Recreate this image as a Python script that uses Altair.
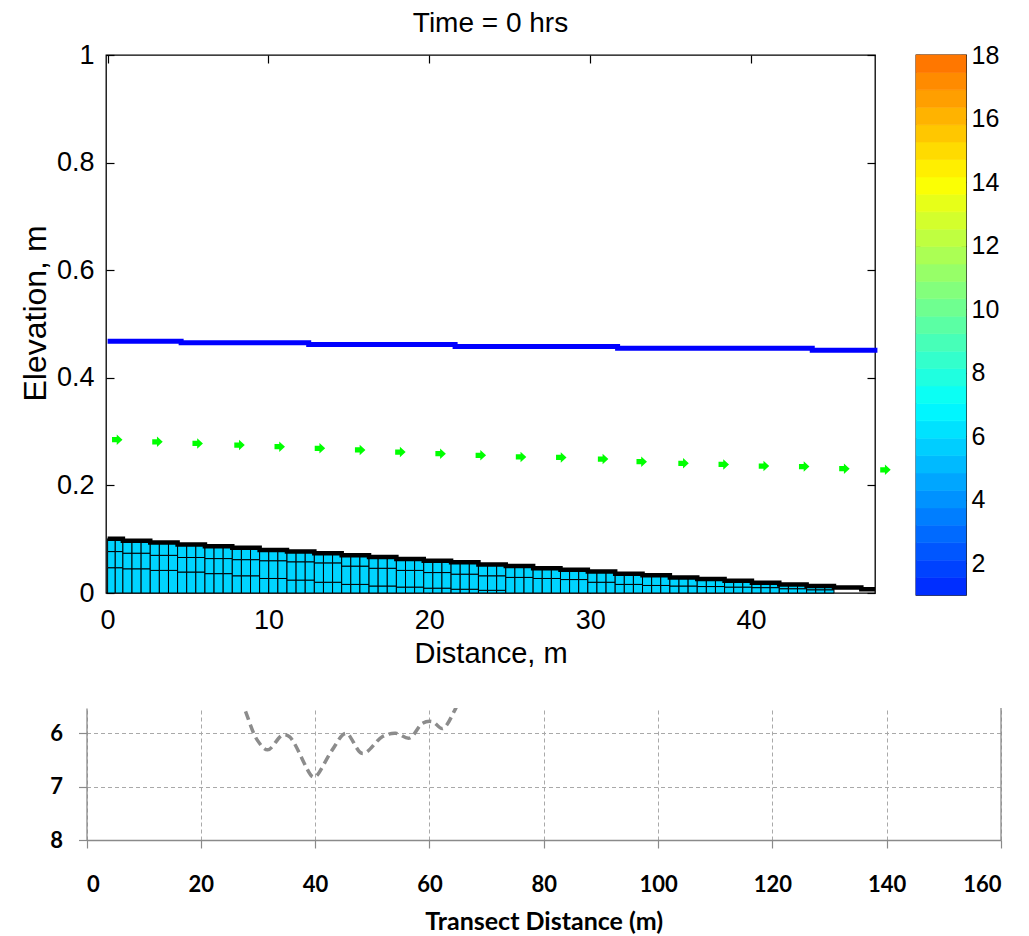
import altair as alt
import numpy as np
import pandas as pd

# ---------------- data ----------------
# water surface (blue, stepped)
blue_x = [0.0, 4.57, 12.5, 21.6, 31.7, 43.8, 47.85]
blue_y = [0.468, 0.465, 0.462, 0.458, 0.455, 0.451, 0.451]

# green markers
green_x = [0.6, 3.1, 5.6, 8.2, 10.7, 13.2, 15.7, 18.2, 20.7, 23.2,
           25.7, 28.2, 30.8, 33.2, 35.8, 38.3, 40.8, 43.3, 45.8, 48.35]
green_y = [0.285, 0.281, 0.278, 0.275, 0.272, 0.269, 0.266, 0.262, 0.259, 0.256,
           0.253, 0.252, 0.249, 0.244, 0.241, 0.239, 0.236, 0.235, 0.231, 0.229]

# sediment bed: step edges, bed-top elevation per step, internal layer surfaces
bed_edges = [0.0, 0.95, 2.65, 4.35, 6.05, 7.75, 9.45, 11.15, 12.85, 14.55, 16.25,
             17.95, 19.65, 21.35, 23.05, 24.75, 26.45, 28.15, 29.85, 31.55, 33.25,
             34.95, 36.65, 38.35, 40.05, 41.75, 43.45, 45.15, 46.85, 47.7]
bed_top = [0.101, 0.097, 0.094, 0.090, 0.087, 0.084, 0.080, 0.077, 0.074, 0.070,
           0.067, 0.063, 0.060, 0.057, 0.053, 0.050, 0.046, 0.043, 0.040, 0.036,
           0.033, 0.029, 0.026, 0.023, 0.019, 0.016, 0.013, 0.010, 0.007]
layer_mid = [0.077, 0.074, 0.070, 0.066, 0.064, 0.062, 0.060, 0.058, 0.056, 0.050,
             0.046, 0.042, 0.038, 0.035, 0.032, 0.029, 0.027, 0.025, 0.020, 0.016,
             0.014, 0.013, 0.012, 0.011, 0.010, 0.008, 0.006]
layer_low = [0.047, 0.045, 0.042, 0.039, 0.036, 0.032, 0.027, 0.024, 0.020, 0.016,
             0.013, 0.011, 0.009, 0.007, 0.005, 0, 0, 0, 0, 0,
             0, 0, 0, 0, 0, 0, 0]
cols_per_step = [2] + [3] * 26

# colorbar
cbar_min, cbar_max, cbar_bands = 1, 18, 31
cbar_ticks = [2, 4, 6, 8, 10, 12, 14, 16, 18]

# lower (transect) chart: dashed depth profile
prof_d = [26.8, 27.6, 29.9, 31.7, 34.3, 35.5, 39.5, 40.1, 43.0, 45.4,
          48.3, 51.8, 54.1, 56.5, 58.8, 60.5, 62.3, 64.6, 65.3]
prof_z = [5.35, 5.53, 6.13, 6.31, 6.03, 6.06, 6.81, 6.81, 6.31, 6.00,
          6.38, 6.06, 6.00, 6.09, 5.81, 5.78, 5.91, 5.53, 5.38]
prof_xticks = [0, 20, 40, 60, 80, 100, 120, 140, 160]
prof_yticks = [6, 7, 8]

x_ticks = [0, 10, 20, 30, 40]
y_ticks = [0, 0.2, 0.4, 0.6, 0.8, 1]

# ---------------- build tables ----------------
cells = []
for i in range(len(layer_mid)):
    e0, e1 = bed_edges[i], bed_edges[i + 1]
    n = cols_per_step[i]
    w = (e1 - e0) / n
    lv = [0.0, layer_low[i], layer_mid[i], bed_top[i]]
    for c in range(n):
        for j in range(3):
            if lv[j + 1] - lv[j] > 1e-9:
                cells.append(dict(x0=e0 + c * w, x1=e0 + (c + 1) * w, y0=lv[j], y1=lv[j + 1]))
cells_df = pd.DataFrame(cells)
top_df = pd.DataFrame({"x": bed_edges, "y": bed_top + [bed_top[-1]]})
blue_df = pd.DataFrame({"x": blue_x, "y": blue_y})
green_df = pd.DataFrame({"x": green_x, "y": green_y})


def jet(v):
    t = 0.375 + (v - 7) / 28.0
    r = min(max(min(4 * t - 1.5, -4 * t + 4.5), 0), 1)
    g = min(max(min(4 * t - 0.5, -4 * t + 3.5), 0), 1)
    b = min(max(min(4 * t + 0.5, -4 * t + 2.5), 0), 1)
    return "#%02x%02x%02x" % (round(r * 255), round(g * 255), round(b * 255))


edges = np.linspace(cbar_min, cbar_max, cbar_bands + 1)
cb_df = pd.DataFrame({"lo": edges[:-1], "hi": edges[1:], "c0": 0.0, "c1": 1.0,
                      "col": [jet((a + b) / 2) for a, b in zip(edges[:-1], edges[1:])]})
prof_df = pd.DataFrame({"d": prof_d, "z": prof_z})

FONT = "Liberation Sans"
BFONT = "Lato"
GRAY = "#8a8a8a"

XS = alt.Scale(domain=[-0.1, 47.7], nice=False, zero=False)
YS = alt.Scale(domain=[0, 1], nice=False, zero=False)


def tick_axis(orient, vals, size):
    return alt.Axis(orient=orient, values=vals, ticks=True, tickSize=size, offset=-size,
                    tickColor="black", tickWidth=1.2, labels=False, domain=False,
                    grid=False, title=None, minExtent=0, maxExtent=0)


tdf = pd.DataFrame({"x": [20.0], "y": [0.5]})

sed = alt.Chart(cells_df).mark_rect(color="#00d4ff", stroke="black", strokeWidth=1).encode(
    x=alt.X("x0:Q", scale=XS, axis=alt.Axis(
        orient="bottom", values=x_ticks, format="d", ticks=False, tickSize=0, domain=False, grid=False,
        labelFont=FONT, labelFontSize=27, labelColor="black", labelPadding=35,
        labelBaseline="alphabetic", title="Distance, m", titleFont=FONT, titleFontSize=29,
        titleFontWeight="normal", titleColor="black", titleY=69, titleBaseline="alphabetic")),
    x2="x1:Q",
    y=alt.Y("y0:Q", scale=YS, axis=alt.Axis(
        orient="left", values=y_ticks, format="~g", ticks=False, tickSize=0, domain=False, grid=False,
        labelFont=FONT, labelFontSize=27, labelColor="black", labelPadding=12,
        title="Elevation, m", titleFont=FONT, titleFontSize=32, titleFontWeight="normal",
        titleColor="black", titleX=-61, titleY=258, titleAngle=270,
        titleBaseline="alphabetic", titleAlign="center")),
    y2="y1:Q",
)
topline = alt.Chart(top_df).mark_line(color="black", strokeWidth=4.5, interpolate="step-after").encode(
    x=alt.X("x:Q", scale=XS, axis=None), y=alt.Y("y:Q", scale=YS, axis=None))
blue = alt.Chart(blue_df).mark_line(color="#0000ff", strokeWidth=5, interpolate="step-after").encode(
    x=alt.X("x:Q", scale=XS, axis=None), y=alt.Y("y:Q", scale=YS, axis=None))
ARROW = "M-1,-0.5L-0.1,-0.5L-0.1,-1L1,0L-0.1,1L-0.1,0.5L-1,0.5Z"
green = alt.Chart(green_df).mark_point(shape=ARROW, filled=True, color="#00ff00", size=110, opacity=1).encode(
    x=alt.X("x:Q", scale=XS, axis=None), y=alt.Y("y:Q", scale=YS, axis=None))
ticks_bl = alt.Chart(tdf).mark_point(opacity=0).encode(
    x=alt.X("x:Q", scale=XS, axis=tick_axis("bottom", x_ticks, 8)),
    y=alt.Y("y:Q", scale=YS, axis=tick_axis("left", y_ticks, 8)))
ticks_tr = alt.Chart(tdf).mark_point(opacity=0).encode(
    x=alt.X("x:Q", scale=XS, axis=tick_axis("top", x_ticks, 8)),
    y=alt.Y("y:Q", scale=YS, axis=tick_axis("right", y_ticks, 8)))

main = alt.layer(sed, topline, blue, green, ticks_bl, ticks_tr).resolve_axis(
    x="independent", y="independent"
).properties(
    width=769, height=538,
    title=alt.TitleParams(text="Time = 0 hrs", font=FONT, fontSize=28, fontWeight="normal",
                          color="black", offset=-19, anchor="middle", frame="group",
                          baseline="alphabetic"),
    view=alt.ViewBackground(stroke="black", strokeWidth=1.3),
)

# colorbar
CBS = alt.Scale(domain=[cbar_min, cbar_max], nice=False, zero=False)
CBX = alt.Scale(domain=[0, 1], nice=False, zero=False)
cdf = pd.DataFrame({"x": [0.5], "y": [9.0]})
cb_rect = alt.Chart(cb_df).mark_rect(strokeWidth=0.6).encode(
    x=alt.X("c0:Q", scale=CBX, axis=None),
    x2="c1:Q",
    y=alt.Y("lo:Q", scale=CBS, axis=alt.Axis(
        orient="right", values=cbar_ticks, ticks=False, tickSize=0, domain=False, grid=False,
        labelFont=FONT, labelFontSize=25, labelColor="black", labelPadding=5, title=None)),
    y2="hi:Q",
    color=alt.Color("col:N", scale=None),
    stroke=alt.Stroke("col:N", scale=None),
)
cb_t1 = alt.Chart(cdf).mark_point(opacity=0).encode(
    x=alt.X("x:Q", scale=CBX, axis=None),
    y=alt.Y("y:Q", scale=CBS, axis=tick_axis("left", cbar_ticks, 4)))
cb_t2 = alt.Chart(cdf).mark_point(opacity=0).encode(
    x=alt.X("x:Q", scale=CBX, axis=None),
    y=alt.Y("y:Q", scale=CBS, axis=tick_axis("right", cbar_ticks, 5)))
cbar = alt.layer(cb_rect, cb_t1, cb_t2).resolve_axis(y="independent").properties(
    width=50, height=540, view=alt.ViewBackground(stroke="black", strokeWidth=1.3))

# lower chart
BX = alt.Scale(domain=[0, 160], range=[-19.5, 895], nice=False, zero=False)
BY = alt.Scale(domain=[5.525, 8], reverse=True, nice=False, zero=False)
BX_AXIS = alt.Axis(
    orient="bottom", values=prof_xticks, format="d", tickSize=8, tickColor=GRAY, tickWidth=1.2,
    domainColor=GRAY, domainWidth=1.3, grid=True, gridColor="#a9a9a9", gridDash=[4, 3],
    gridWidth=1, labelFont=BFONT, labelFontWeight="bold", labelFontSize=22,
    labelColor="black", labelPadding=43, labelBaseline="alphabetic",
    title="Transect Distance (m)", titleFont=BFONT, titleFontWeight="bold",
    titleFontSize=25, titleColor="black", titleY=89, titleBaseline="alphabetic")
prof = alt.Chart(prof_df).mark_line(color="#8c8c8c", strokeWidth=3.5, strokeDash=[9, 5],
                                    interpolate="catmull-rom", clip=True).encode(
    x=alt.X("d:Q", scale=BX, axis=BX_AXIS),
    y=alt.Y("z:Q", scale=BY, axis=alt.Axis(
        orient="left", offset=19.5, values=prof_yticks, format="d", tickSize=8, tickColor=GRAY,
        tickWidth=1.2, domainColor=GRAY, domainWidth=1.3, grid=True, gridColor="#a9a9a9",
        gridDash=[4, 3], gridWidth=1, labelFont=BFONT, labelFontWeight="bold",
        labelFontSize=22, labelColor="black", labelPadding=16, title=None)),
)
edge = alt.Chart(pd.DataFrame({"d": [160]})).mark_rule(color=GRAY, strokeWidth=1.3).encode(
    x=alt.X("d:Q", scale=BX, axis=BX_AXIS))
bottom = alt.layer(prof, edge).properties(width=895, height=132)

top_row = alt.hconcat(main, cbar, spacing=22)
chart = alt.vconcat(top_row, bottom, spacing=38).properties(
    padding={"left": 10, "top": 1, "right": 0, "bottom": 0}, background="white"
).configure_view(stroke=None)

chart.save("out.html", embed_options={"renderer": "svg", "actions": False})
